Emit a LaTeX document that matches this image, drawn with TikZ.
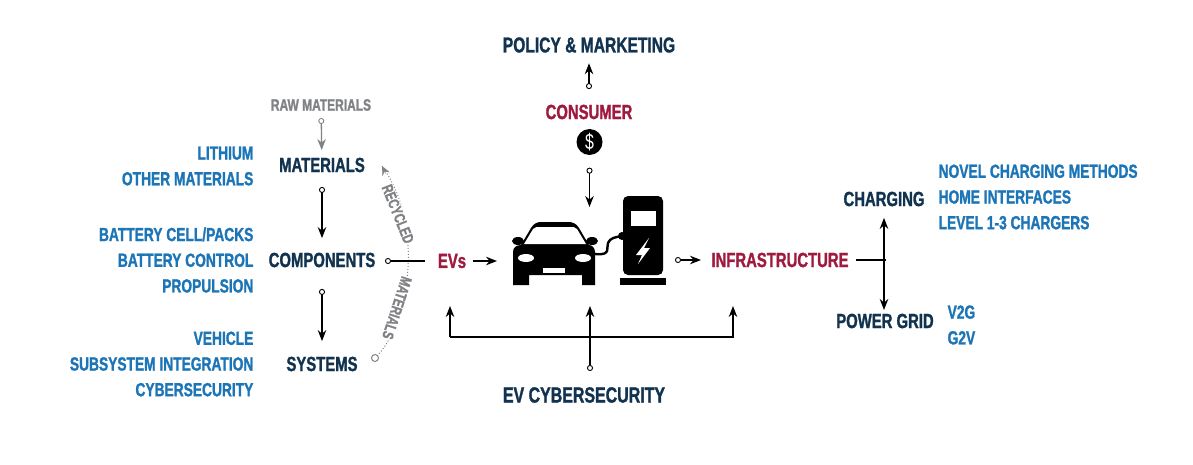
\documentclass[tikz,border=0pt]{standalone}
\usepackage{fontspec}
\setmainfont[FakeStretch=0.725,BoldFeatures={FakeStretch=0.725,FakeBold=1.3}]{Liberation Sans}
\usetikzlibrary{arrows.meta}
\definecolor{navy}{HTML}{12334F}
\definecolor{crimson}{HTML}{9E1B3F}
\definecolor{azure}{HTML}{1B75B6}
\definecolor{ash}{HTML}{808285}
\begin{document}
\begin{tikzpicture}[x=1pt, y=-1pt, >={Stealth[length=11pt,width=8.5pt]}, line width=1.3pt,
  head/.style={inner sep=0pt, text=navy, font=\bfseries\fontsize{20.5}{20.5}\selectfont},
  hot/.style={inner sep=0pt, text=crimson, font=\bfseries\fontsize{20.5}{20.5}\selectfont},
  blist/.style={inner sep=0pt, text=azure, font=\bfseries\fontsize{19}{25.7}\selectfont},
  ghost/.style={inner sep=0.5pt, text=ash, font=\bfseries\fontsize{16.5}{16.5}\selectfont},
  flow/.style={{Circle[open,length=6pt,width=6pt,line width=0.9pt]}->}]
  \useasboundingbox (0,0) rectangle (1193,465);
  % supply chain on the left
  \node[ghost] (raw) at (321,105) {RAW MATERIALS};
  \node[head] (materials) at (322,165) {MATERIALS};
  \node[head] (components) at (322,260) {COMPONENTS};
  \node[head] (systems) at (322,364) {SYSTEMS};
  \node[blist, anchor=east, align=right] (matlist) at (254,166) {LITHIUM\\OTHER MATERIALS};
  \node[blist, anchor=east, align=right] (complist) at (254,260) {BATTERY CELL/PACKS\\BATTERY CONTROL\\PROPULSION};
  \node[blist, anchor=east, align=right] (syslist) at (254,364) {VEHICLE\\SUBSYSTEM INTEGRATION\\CYBERSECURITY};
  \draw[flow, draw=ash, shorten <=6pt, shorten >=7pt] (raw) -- (materials);
  \draw[flow, shorten <=14pt, shorten >=14pt] (materials) -- (components);
  \draw[flow, shorten <=21pt, shorten >=15pt] (components) -- (systems);
  % recycling arc
  \coordinate (arcstart) at (375,358);
  \coordinate (arcend) at (382,166);
  \draw[draw=ash, line width=1pt, dotted] (arcstart) .. controls (410,325) and (425,225) .. (arcend);
  \draw[draw=ash, line width=1pt, fill=white] (arcstart) circle (3.5pt);
  \draw[draw=ash, line width=0.1pt, fill=ash, -{Stealth[length=9pt,width=8pt]}] (386,174) -- (arcend);
  \node[ghost, fill=white, rotate=-68, font=\bfseries\fontsize{15.5}{15.5}\selectfont] (recycled) at (398,214) {RECYCLED};
  \node[ghost, fill=white, rotate=-108, font=\bfseries\fontsize{15.5}{15.5}\selectfont] (recmat) at (397,308) {MATERIALS};
  % centre column
  \node[hot] (evs) at (452,261) {EVs};
  \node[hot] (infra) at (780,260) {INFRASTRUCTURE};
  \coordinate (evstick) at (425,261);
  \coordinate (compstart) at (385,261);
  \draw[{Circle[open,length=6pt,width=6pt,line width=0.9pt]}-] (compstart) -- (evstick);
  \coordinate (carin) at (497,261);
  \draw[->, shorten <=6pt] (evs) -- (carin);
  \node[head, font=\bfseries\fontsize{21.5}{21.5}\selectfont] (policy) at (589,45) {POLICY \& MARKETING};
  \node[hot] (consumer) at (589,112) {CONSUMER};
  \node[circle, fill=black, text=white, inner sep=0pt, minimum size=26pt, font=\fontsize{22}{22}\selectfont] (dollar) at (589.5,142) {\$};
  \draw[flow, shorten <=15pt, shorten >=10pt] (consumer) -- (policy);
  \coordinate (carabove) at (589.5,207);
  \draw[flow, shorten <=12pt] (dollar) -- (carabove);
  % car
  \fill (513,252) .. controls (513,248) and (516,245) .. (521,245) -- (531,228) .. controls (534,223) and (538,222) .. (541,222)
    -- (568,222) .. controls (572,222) and (576,223) .. (579,228) -- (589,245) .. controls (592,245) and (595,248) .. (595,252)
    -- (595,285) -- (582,285) -- (582,275) -- (529,275) -- (529,285) -- (513,285) -- cycle;
  \fill (518,241) ellipse (6 and 4);
  \fill (592,241) ellipse (6 and 4);
  \fill[white] (524,244) -- (533,229) .. controls (535,227) and (537,227) .. (539,227) -- (571,227) .. controls (573,227) and (575,227) .. (577,229) -- (586,244) -- cycle;
  \fill[white] (526,258) ellipse (8 and 4);
  \fill[white] (583,258) ellipse (8 and 4);
  \fill[white] (543,268) rectangle (565,273);
  % charger
  \fill[rounded corners=5pt] (623,275) -- (623,196) -- (663,196) -- (663,275) -- cycle;
  \fill (620,278) rectangle (666,285);
  \fill[white] (631,211) rectangle (656,226);
  \fill[white] (649,238) -- (636,255) -- (642,255) -- (638,264) -- (650,248) -- (644,248) -- cycle;
  \draw[line width=2.4pt] (595,254) .. controls (612,256) and (606,247) .. (608,243) .. controls (610,238) and (615,237) .. (623,236);
  \fill (622,236) circle (4pt);
  % cybersecurity feed
  \node[head, font=\bfseries\fontsize{22}{22}\selectfont] (cyber) at (584,395) {EV CYBERSECURITY};
  \coordinate (carbelow) at (590,306);
  \coordinate (cyberstart) at (590,371);
  \coordinate (busleft) at (450,337);
  \coordinate (busright) at (733,337);
  \draw[flow] (cyberstart) -- (carbelow);
  \draw[->] (busleft) -- (450,306);
  \draw[->] (busleft) -- (busright) -- (733,306);
  % infrastructure branch
  \coordinate (chargerout) at (675,260);
  \coordinate (infrain) at (701,260);
  \draw[flow] (chargerout) -- (infrain);
  \node[head] (charging) at (884,199) {CHARGING};
  \node[head] (grid) at (885,321) {POWER GRID};
  \node[blist, anchor=west, align=left] (chlist) at (938,197) {NOVEL CHARGING METHODS\\HOME INTERFACES\\LEVEL 1-3 CHARGERS};
  \node[blist, anchor=west, align=left] (gridlist) at (947,325) {V2G\\G2V};
  \coordinate (tee) at (886,260);
  \draw (infra) ++(76,0) -- (tee);
  \draw[<->, shorten <=11pt, shorten >=11pt] (charging) -- (charging |- grid);
\end{tikzpicture}
\end{document}
